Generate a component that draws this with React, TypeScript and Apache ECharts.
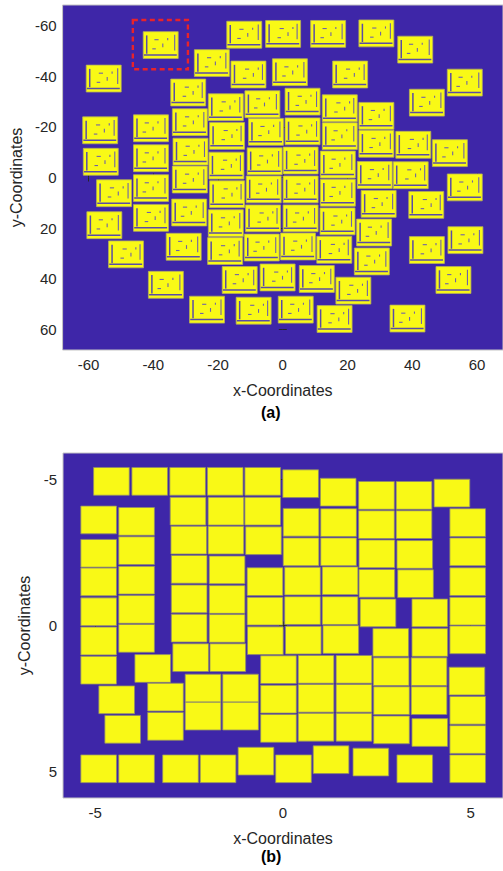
import React, { useEffect, useRef } from "react";
import * as echarts from "echarts";

// ---------- Panel (a): centres of the textured blocks ----------
const blocksAX = [
  -37.7, -11.9, 0.1, 14.0, 28.9, 40.9, -21.9, -10.6, 2.2, 20.8, 56.2, -55.3, -29.2, 44.5,
  -17.6, -6.3, 6.1, 17.6, 28.9, -56.4, -40.7, -28.7, -17.2, -5.2, 6.1, 17.6, 28.9, 40.3,
  51.6, -56.2, -40.7, -28.5, -17.4, -5.6, 5.5, 17.0, 28.4, 39.5, 56.2, -52.1, -40.7, -28.7,
  -17.2, -5.9, 5.5, 17.0, 29.6, 44.3, -55.1, -40.7, -28.9, -17.6, -6.1, 5.5, 16.9, 28.2,
  56.4, -48.4, -30.6, -17.8, -6.5, 4.7, 15.9, 27.5, 44.5, -36.1, -13.3, -1.6, 10.5, 21.8,
  52.7, -23.4, -9.0, 4.0, 16.0, 38.5,
];
const blocksAY = [
  -52.2, -56.3, -56.6, -56.6, -56.8, -50.4, -45.1, -40.6, -41.5, -40.6, -37.4, -39.0, -33.5, -29.5,
  -27.7, -28.9, -29.9, -27.3, -24.3, -18.6, -19.4, -21.8, -16.4, -18.0, -18.2, -16.3, -13.3, -12.9,
  -9.6, -6.2, -7.6, -10.2, -4.7, -6.4, -6.7, -5.1, -1.0, -0.9, 3.9, 6.2, 4.2, 0.8,
  6.6, 4.7, 4.7, 6.0, 10.4, 10.8, 18.8, 15.9, 13.8, 18.0, 16.1, 16.1, 17.3, 21.7,
  24.7, 30.3, 27.3, 29.0, 27.6, 27.2, 28.5, 33.1, 28.6, 42.3, 40.4, 39.4, 40.0, 44.6,
  40.4, 52.1, 52.5, 52.1, 55.8, 55.6,
];
// highlighted region (x0, y0, x1, y1)
const highlightBox = [-46.3, -62.1, -29.3, -42.7];

// ---------- Panel (b): centres of the square blocks ----------
const blocksBX = [
  -4.57, -3.55, -2.54, -1.54, -0.54, 0.47, 1.47, 2.49, 3.49, 4.5,
  -4.91, -4.91, -4.91, -4.91, -4.91, -4.91,
  -3.9, -3.9, -3.9, -3.9, -3.9, -3.47, -4.43, -4.27, -3.13, -3.13,
  -2.53, -2.51, -2.5, -2.5, -2.5, -2.46,
  -1.52, -1.52, -1.49, -1.49, -1.49, -1.47, -2.13, -2.13, -1.13, -1.13,
  -0.54, -0.52, -0.48, -0.48, -0.47,
  0.48, 0.48, 0.52, 0.52, 0.54,
  1.48, 1.48, 1.52, 1.52, 1.54,
  2.49, 2.5, 2.5, 2.53, 2.87,
  3.49, 3.51, 3.53, 3.91, 3.91,
  4.92, 4.92, 4.92, 4.92, 4.92, 4.9, 4.92, 4.92, 4.92,
  -0.12, -0.12, -0.12, 0.88, 0.88, 0.88, 1.89, 1.89, 1.89,
  2.88, 2.89, 2.89, 3.89, 3.89, 3.91,
  -4.91, -3.9, -2.73, -1.73, -0.72, 0.28, 1.28, 2.34, 3.51,
];
const blocksBY = [
  -4.93, -4.93, -4.93, -4.93, -4.93, -4.85, -4.56, -4.45, -4.45, -4.53,
  -3.61, -2.47, -1.49, -0.47, 0.53, 1.53,
  -3.56, -2.56, -1.55, -0.55, 0.44, 1.47, 2.54, 3.55, 2.45, 3.45,
  -3.91, -2.92, -1.92, -0.91, 0.09, 1.1,
  -3.91, -2.92, -1.9, -0.89, 0.1, 1.1, 2.14, 3.1, 2.14, 3.1,
  -3.91, -2.9, -1.5, -0.49, 0.52,
  -3.53, -2.52, -1.52, -0.51, 0.5,
  -3.52, -2.52, -1.53, -0.51, 0.48,
  -3.45, -2.45, -1.44, -0.43, 0.58,
  -3.45, -2.43, -1.43, -0.43, 0.58,
  -3.52, -2.52, -1.5, -0.49, 0.49, 1.9, 2.9, 3.9, 4.9,
  1.51, 2.52, 3.52, 1.5, 2.49, 3.48, 1.5, 2.49, 3.48,
  1.58, 2.57, 3.57, 1.58, 2.57, 3.66,
  4.9, 4.9, 4.9, 4.9, 4.64, 4.9, 4.59, 4.67, 4.9,
];

// ---------- tick labels ----------
const ticksA = [-60, -40, -20, 0, 20, 40, 60];
const ticksB = [-5, 0, 5];

// block sides in data units
const SIDE_A_W = 10.8;
const SIDE_A_H = 10.6;
const SIDE_B = 0.95;

const BG = "#3e26a8";
const YELLOW = "#f9f916";
const TEXT = "#262626";
const FONT = "'Liberation Sans', Arial, sans-serif";

// texture strokes inside a panel-(a) block, as fractions of its width/height
const TEXTURE: number[][] = [
  [0.1, 0.14, 0.1, 0.82],
  [0.02, 0.87, 0.96, 0.87],
  [0.9, 0.12, 0.9, 0.7],
  [0.36, 0.3, 0.48, 0.3],
  [0.6, 0.44, 0.6, 0.58],
  [0.3, 0.64, 0.4, 0.64],
  [0.74, 0.24, 0.74, 0.32],
];

function blockRenderer(w: number, h: number, textured: boolean) {
  return (params: any, api: any) => {
    const cx = api.value(0);
    const cy = api.value(1);
    const p0 = api.coord([cx - w / 2, cy - h / 2]);
    const p1 = api.coord([cx + w / 2, cy + h / 2]);
    const x = Math.min(p0[0], p1[0]);
    const y = Math.min(p0[1], p1[1]);
    const pw = Math.abs(p1[0] - p0[0]);
    const ph = Math.abs(p1[1] - p0[1]);
    const children: any[] = [
      {
        type: "rect",
        shape: { x, y, width: pw, height: ph },
        style: textured
          ? { fill: YELLOW, stroke: "#b4ae5a", lineWidth: 0.8 }
          : { fill: YELLOW, stroke: "#8e8a6c", lineWidth: 0.8 },
      },
    ];
    if (textured) {
      const shift = (((params.dataIndex * 7) % 5) - 2) * 0.02;
      TEXTURE.forEach((s, k) => {
        const dx = k > 2 ? shift : 0;
        children.push({
          type: "line",
          shape: {
            x1: x + (s[0] + dx) * pw,
            y1: y + s[1] * ph,
            x2: x + (s[2] + dx) * pw,
            y2: y + s[3] * ph,
          },
          style: { stroke: k < 2 ? "#5a4ca6" : "#6f62a8", lineWidth: k < 2 ? 1.5 : 1.1 },
        });
      });
    }
    return { type: "group", children };
  };
}

function boxRenderer(params: any, api: any) {
  const p0 = api.coord([api.value(0), api.value(1)]);
  const p1 = api.coord([api.value(2), api.value(3)]);
  return {
    type: "rect",
    shape: {
      x: Math.min(p0[0], p1[0]),
      y: Math.min(p0[1], p1[1]),
      width: Math.abs(p1[0] - p0[0]),
      height: Math.abs(p1[1] - p0[1]),
    },
    style: { fill: "none", stroke: "#e8232a", lineWidth: 2.4, lineDash: [5, 3.5] },
  };
}

function axisPair(kind: "x" | "y", grid: number, min: number, max: number, ticks: number[], name: string, nameGap: number) {
  const inverse = kind === "y";
  const tick = {
    show: true,
    inside: true,
    length: 4,
    customValues: ticks,
    lineStyle: { color: TEXT, width: 1 },
  };
  const main = {
    type: "value",
    gridIndex: grid,
    min,
    max,
    inverse,
    position: kind === "x" ? "bottom" : "left",
    axisLine: { show: false },
    axisTick: tick,
    splitLine: { show: false },
    axisLabel: {
      show: true,
      customValues: ticks,
      color: TEXT,
      fontSize: 15,
      fontFamily: FONT,
      margin: kind === "x" ? 7 : 6,
    },
    name,
    nameLocation: "middle",
    nameGap,
    nameTextStyle: { color: TEXT, fontSize: 16, fontFamily: FONT },
  };
  const mirror = {
    type: "value",
    gridIndex: grid,
    min,
    max,
    inverse,
    position: kind === "x" ? "top" : "right",
    axisLine: { show: false },
    axisTick: tick,
    splitLine: { show: false },
    axisLabel: { show: false },
  };
  return [main, mirror];
}

export default function App() {
  const ref = useRef<HTMLDivElement>(null);
  useEffect(() => {
    if (!ref.current) return;
    const chart = echarts.init(ref.current, undefined, { renderer: "svg" });
    const dataA = blocksAX.map((x, i) => [x, blocksAY[i]]);
    const dataB = blocksBX.map((x, i) => [x, blocksBY[i]]);
    const gridStyle = { show: true, backgroundColor: BG, borderColor: "#c4c4c4", borderWidth: 1 };
    const option: any = {
      animation: false,
      backgroundColor: "#ffffff",
      grid: [
        { left: 62, top: 5, width: 441, height: 345, ...gridStyle },
        { left: 63, top: 453, width: 440, height: 345, ...gridStyle },
      ],
      xAxis: [
        ...axisPair("x", 0, -68, 68, ticksA, "x-Coordinates", 32),
        ...axisPair("x", 1, -5.86, 5.86, ticksB, "x-Coordinates", 32),
      ],
      yAxis: [
        ...axisPair("y", 0, -68, 68, ticksA, "y-Coordinates", 33),
        ...axisPair("y", 1, -5.9, 5.9, ticksB, "y-Coordinates", 25),
      ],
      series: [
        {
          type: "custom",
          name: "blocks (a)",
          xAxisIndex: 0,
          yAxisIndex: 0,
          clip: true,
          renderItem: blockRenderer(SIDE_A_W, SIDE_A_H, true),
          data: dataA,
        },
        {
          type: "custom",
          name: "highlight",
          xAxisIndex: 0,
          yAxisIndex: 0,
          renderItem: boxRenderer,
          data: [highlightBox],
        },
        {
          type: "custom",
          name: "blocks (b)",
          xAxisIndex: 2,
          yAxisIndex: 2,
          clip: true,
          renderItem: blockRenderer(SIDE_B, SIDE_B, false),
          data: dataB,
        },
      ],
      graphic: [
        {
          type: "text",
          left: 273 - 12,
          top: 404,
          style: { text: "(a)", fill: "#000", font: `bold 16px ${FONT}` },
        },
        {
          type: "text",
          left: 273 - 12,
          top: 848,
          style: { text: "(b)", fill: "#000", font: `bold 16px ${FONT}` },
        },
      ],
    };
    chart.setOption(option);
    return () => chart.dispose();
  }, []);
  return <div ref={ref} style={{ width: 503, height: 871, position: "absolute", left: 0, top: 0 }} />;
}
